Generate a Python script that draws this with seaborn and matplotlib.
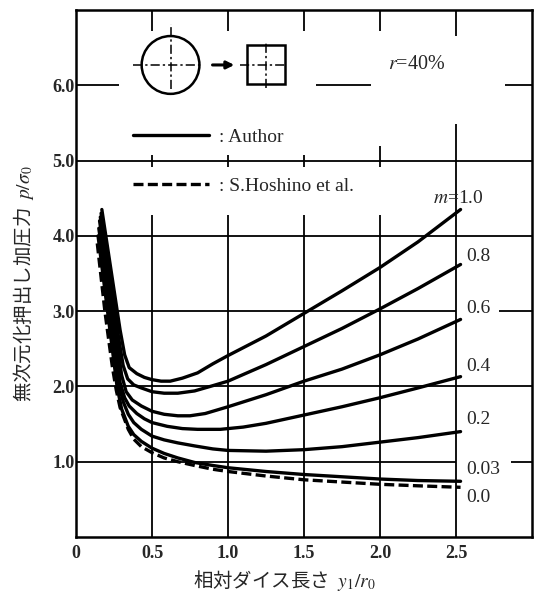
import matplotlib
matplotlib.use('Agg')
import pandas as pd
import matplotlib.pyplot as plt
import seaborn as sns
from matplotlib.lines import Line2D
from matplotlib.patches import Ellipse, Rectangle

# values (r = 40 %), p/sigma0 vs y1/r0
x_m10 = [0.17, 0.20, 0.23, 0.26, 0.29, 0.32, 0.35, 0.40, 0.45, 0.50, 0.56, 0.62, 0.70, 0.80, 0.90, 1.00, 1.25, 1.50, 1.75, 2.00, 2.25, 2.53]
p_m10 = [4.35, 3.95, 3.55, 3.15, 2.75, 2.42, 2.25, 2.17, 2.12, 2.09, 2.07, 2.07, 2.11, 2.18, 2.30, 2.41, 2.67, 2.97, 3.27, 3.58, 3.92, 4.35]

x_m08 = [0.165, 0.19, 0.22, 0.25, 0.28, 0.31, 0.34, 0.38, 0.43, 0.50, 0.58, 0.67, 0.78, 0.90, 1.00, 1.25, 1.50, 1.75, 2.00, 2.25, 2.53]
p_m08 = [4.30, 3.95, 3.55, 3.10, 2.65, 2.28, 2.10, 2.02, 1.98, 1.93, 1.91, 1.91, 1.94, 2.01, 2.07, 2.29, 2.53, 2.77, 3.03, 3.30, 3.62]

x_m06 = [0.16, 0.185, 0.21, 0.24, 0.27, 0.30, 0.33, 0.37, 0.43, 0.50, 0.58, 0.67, 0.75, 0.85, 1.00, 1.25, 1.50, 1.75, 2.00, 2.25, 2.53]
p_m06 = [4.25, 3.90, 3.50, 3.05, 2.60, 2.15, 1.93, 1.82, 1.74, 1.67, 1.63, 1.61, 1.61, 1.64, 1.73, 1.89, 2.07, 2.23, 2.42, 2.63, 2.89]

x_m04 = [0.155, 0.18, 0.205, 0.23, 0.26, 0.29, 0.32, 0.35, 0.40, 0.45, 0.50, 0.60, 0.70, 0.80, 0.95, 1.10, 1.25, 1.50, 1.75, 2.00, 2.25, 2.53]
p_m04 = [4.20, 3.85, 3.45, 3.05, 2.55, 2.05, 1.85, 1.74, 1.64, 1.57, 1.52, 1.47, 1.44, 1.43, 1.43, 1.46, 1.51, 1.62, 1.73, 1.85, 1.98, 2.13]

x_m02 = [0.15, 0.175, 0.20, 0.225, 0.25, 0.28, 0.31, 0.344, 0.38, 0.43, 0.50, 0.58, 0.67, 0.78, 0.90, 1.00, 1.25, 1.50, 1.75, 2.00, 2.25, 2.53]
p_m02 = [4.10, 3.75, 3.35, 2.95, 2.50, 2.05, 1.80, 1.63, 1.52, 1.43, 1.34, 1.29, 1.25, 1.21, 1.17, 1.15, 1.14, 1.16, 1.20, 1.26, 1.32, 1.40]

x_m003 = [0.145, 0.17, 0.195, 0.22, 0.245, 0.27, 0.30, 0.344, 0.38, 0.43, 0.50, 0.58, 0.67, 0.78, 0.90, 1.00, 1.25, 1.50, 1.75, 2.00, 2.25, 2.53]
p_m003 = [4.00, 3.60, 3.20, 2.80, 2.40, 2.00, 1.70, 1.47, 1.36, 1.27, 1.18, 1.11, 1.05, 0.99, 0.95, 0.92, 0.87, 0.83, 0.80, 0.77, 0.75, 0.74]

# S.Hoshino et al., m = 0.0 (dashed)
x_m00 = [0.14, 0.165, 0.19, 0.215, 0.24, 0.265, 0.29, 0.344, 0.38, 0.43, 0.50, 0.58, 0.67, 0.78, 0.90, 1.00, 1.25, 1.50, 1.75, 2.00, 2.25, 2.53]
p_m00 = [3.90, 3.45, 3.00, 2.62, 2.25, 1.95, 1.72, 1.43, 1.30, 1.20, 1.12, 1.05, 1.00, 0.95, 0.90, 0.87, 0.81, 0.76, 0.73, 0.70, 0.68, 0.66]

m_labels = ['1.0', '0.8', '0.6', '0.4', '0.2', '0.03', '0.0']
sources = ['Author'] * 6 + ['S.Hoshino et al.']

x_ticks = [0, 0.5, 1.0, 1.5, 2.0, 2.5]
x_tick_labels = ['0', '0.5', '1.0', '1.5', '2.0', '2.5']
y_ticks = [1, 2, 3, 4, 5, 6]
y_tick_labels = ['1.0', '2.0', '3.0', '4.0', '5.0', '6.0']

curves = list(zip(m_labels, sources,
                  [x_m10, x_m08, x_m06, x_m04, x_m02, x_m003, x_m00],
                  [p_m10, p_m08, p_m06, p_m04, p_m02, p_m003, p_m00]))
rows = []
for m, src, xs, ps in curves:
    for x, p in zip(xs, ps):
        rows.append({'y1_r0': x, 'p_s0': p, 'm': m, 'source': src})
df = pd.DataFrame(rows)

sns.set_style('white')
plt.rcParams['mathtext.fontset'] = 'stix'
serif = ['Liberation Serif', 'DejaVu Serif']
jp = ['Noto Sans CJK JP', 'DejaVu Sans']

fig = plt.figure(figsize=(5.4, 5.95), dpi=100)
ax = fig.add_axes([76 / 540, 1 - 537 / 595, 456 / 540, 527 / 595])

dash = (3, 1.3)
sns.lineplot(data=df, x='y1_r0', y='p_s0', units='m', estimator=None, style='source',
             dashes={'Author': '', 'S.Hoshino et al.': dash}, color='black',
             linewidth=2.4, legend=False, sort=False, ax=ax, zorder=3)

ax.set_xlim(0, 3.0)
ax.set_ylim(0, 7.0)

# broken grid, as in the printed figure
gk = dict(color='black', lw=1.3, zorder=1)
for gx in [0.5, 1.0, 1.5, 2.0]:
    ax.vlines(gx, 6.72, 7.0, **gk)
    ax.vlines(gx, 0, 4.28, **gk)
    ax.vlines(gx, 4.92, 5.08 if gx < 2 else 5.2, **gk)
ax.vlines(2.5, 6.65, 7.0, **gk)
ax.vlines(2.5, 0, 5.48, **gk)
for gy, segs in [(6, [(0, 0.28), (1.58, 1.94), (2.82, 3.0)]),
                 (5, [(0, 3.0)]), (4, [(0, 3.0)]),
                 (3, [(0, 2.5), (2.78, 3.0)]), (2, [(0, 3.0)]),
                 (1, [(0, 2.5), (2.86, 3.0)])]:
    for a, b in segs:
        ax.hlines(gy, a, b, **gk)

for s in ax.spines.values():
    s.set_linewidth(1.8)
    s.set_color('black')

ax.set_xticks(x_ticks)
ax.set_xticklabels(x_tick_labels, fontfamily=serif, fontweight='bold', fontsize=13)
ax.set_yticks(y_ticks)
ax.set_yticklabels(y_tick_labels, fontfamily=serif, fontweight='bold', fontsize=13)
ax.tick_params(axis='both', length=0)
ax.tick_params(axis='y', pad=1)
ax.tick_params(axis='x', pad=6)

ax.set_xlabel('相対ダイス長さ  $y_1/r_0$', fontfamily=jp, fontsize=14)
ax.set_ylabel('無次元化押出し加圧力  $p/\\sigma_0$', fontfamily=jp, fontsize=14)
ax.xaxis.set_label_coords(0.458, -0.058)
ax.yaxis.set_label_coords(-0.088, 0.48)

# curve labels
label_y = [4.5, 3.73, 3.03, 2.27, 1.56, 0.89, 0.52]
for m, ly in zip(m_labels, label_y):
    txt = '$m$=' + m if m == '1.0' else m
    lx = 2.35 if m == '1.0' else 2.57
    ax.text(lx, ly, txt, fontfamily=serif, fontsize=14, va='center', ha='left')

# die section sketch: round -> square
ck = dict(color='black', lw=1.1, ls=(0, (6, 2, 1.5, 2)), zorder=2)
ax.add_patch(Ellipse((0.622, 6.27), 0.38, 0.768, fill=False, lw=1.8, ec='black'))
ax.plot([0.375, 0.829], [6.27, 6.27], **ck)
ax.plot([0.622, 0.622], [5.95, 6.81], **ck)
ax.annotate('', xy=(1.06, 6.27), xytext=(0.88, 6.27),
            arrowprops=dict(arrowstyle='-|>', lw=2.2, color='black', mutation_scale=11))
ax.add_patch(Rectangle((1.123, 6.02), 0.252, 0.52, fill=False, lw=1.8, ec='black'))
ax.plot([1.08, 1.39], [6.27, 6.27], **ck)
ax.plot([1.248, 1.248], [5.96, 6.59], **ck)
ax.text(2.24, 6.27, '$r$=40%', fontfamily=serif, fontsize=14.5, va='center', ha='center')

handles = [Line2D([], [], color='black', lw=2.4),
           Line2D([], [], color='black', lw=2.4, dashes=dash)]
ax.legend(handles, [': Author', ': S.Hoshino et al.'], loc='upper left',
          bbox_to_anchor=(0.375, 5.43), bbox_transform=ax.transData,
          frameon=False, borderpad=0, borderaxespad=0, handlelength=3.9,
          handletextpad=0.5, labelspacing=1.6, prop={'family': serif, 'size': 14})

fig.savefig('out.png', dpi=100, facecolor='white')
